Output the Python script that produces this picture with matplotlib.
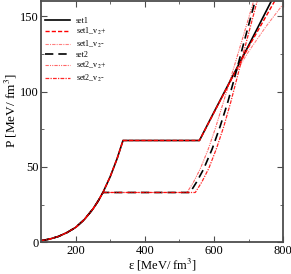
import numpy as np
import matplotlib
matplotlib.use('Agg')
import matplotlib.pyplot as plt

plt.rcParams['font.family'] = ['Liberation Serif', 'DejaVu Serif']
plt.rcParams['mathtext.fontset'] = 'stix'

# hadronic part (shared by both sets)
had_x = [100, 125, 150, 175, 200, 225, 250, 265, 279]
had_y = [1.0, 2.1, 3.8, 6.4, 9.8, 15.0, 22.0, 27.3, 33.0]

# set1: rest of hadronic curve, plateau, quark branch
set1_x = had_x + [300, 320, 337, 558, 600, 657, 700, 768]
set1_y = had_y + [43.5, 55.5, 67.5, 67.5, 86.3, 111.5, 130.5, 161.0]

set1_vp_x = had_x + [300, 320, 337, 558, 600, 660, 700, 778]
set1_vp_y = had_y + [43.5, 55.5, 67.5, 67.5, 86.0, 112.5, 129.5, 161.0]

set1_vm_x = had_x + [300, 320, 337, 558, 600, 660, 700, 750, 800]
set1_vm_y = had_y + [43.5, 55.5, 67.5, 67.5, 86.0, 111.5, 126.5, 143.0, 158.0]

# set2: plateau at lower pressure, steeper quark branch
set2_x = had_x + [531, 550, 570, 595, 618, 640, 657, 686, 720]
set2_y = had_y + [33.0, 40.0, 48.5, 62.0, 77.0, 93.0, 107.0, 132.0, 161.0]

set2_vp_x = had_x + [522, 540, 560, 583, 604, 630, 655, 685, 716]
set2_vp_y = had_y + [33.0, 39.5, 48.5, 61.5, 75.5, 95.0, 114.0, 137.0, 161.0]

set2_vm_x = had_x + [546, 565, 585, 607, 628, 648, 665, 692, 726]
set2_vm_y = had_y + [33.0, 40.0, 49.0, 62.0, 76.5, 92.5, 107.5, 131.5, 161.0]

fig = plt.figure(figsize=(2.91, 2.74), dpi=100)
ax = fig.add_axes([0.141, 0.116, 0.832, 0.880])

ax.plot(set1_x, set1_y, color='black', lw=1.2, label='set1')
ax.plot(set1_vp_x, set1_vp_y, color='red', lw=1.0, ls=(0, (3, 1.5)), label='set1_v$_2$+')
ax.plot(set1_vm_x, set1_vm_y, color='red', lw=0.8, alpha=0.5, ls=(0, (3, 1, 1, 1)), label='set1_v$_2$-')
ax.plot(set2_x, set2_y, color='black', lw=1.2, ls=(0, (5, 3)), label='set2')
ax.plot(set2_vp_x, set2_vp_y, color='red', lw=0.8, alpha=0.6, ls=(0, (3, 1, 1, 1, 1, 1)), label='set2_v$_2$+')
ax.plot(set2_vm_x, set2_vm_y, color='red', lw=0.9, alpha=0.85, ls=(0, (3, 1, 1, 1)), label='set2_v$_2$-')

ax.set_xlim(100, 800)
ax.set_ylim(0, 160)
ax.set_xticks([200, 400, 600, 800])
ax.set_xticks([300, 500, 700], minor=True)
ax.set_yticks([0, 50, 100, 150])
ax.set_yticks([25, 75, 125], minor=True)
ax.tick_params(which='both', direction='in', top=True, right=True, labelsize=9, pad=2, color='0.3')
ax.tick_params(which='major', length=4)
ax.tick_params(which='minor', length=2.5)
for s in ax.spines.values():
    s.set_color('0.3')
    s.set_linewidth(1.3)

ax.set_xlabel('ε [MeV/ fm$^3$]', fontsize=9, labelpad=0)
ax.set_ylabel('P [MeV/ fm$^3$]', fontsize=9.5, labelpad=1)
ax.yaxis.set_label_coords(-0.092, 0.545)

ax.legend(loc='upper left', bbox_to_anchor=(0.015, 0.935), frameon=False,
          fontsize=5.8, handlelength=3.2, labelspacing=0.15,
          borderaxespad=0, borderpad=0, handletextpad=0.7)

fig.savefig('out.png', dpi=100)
